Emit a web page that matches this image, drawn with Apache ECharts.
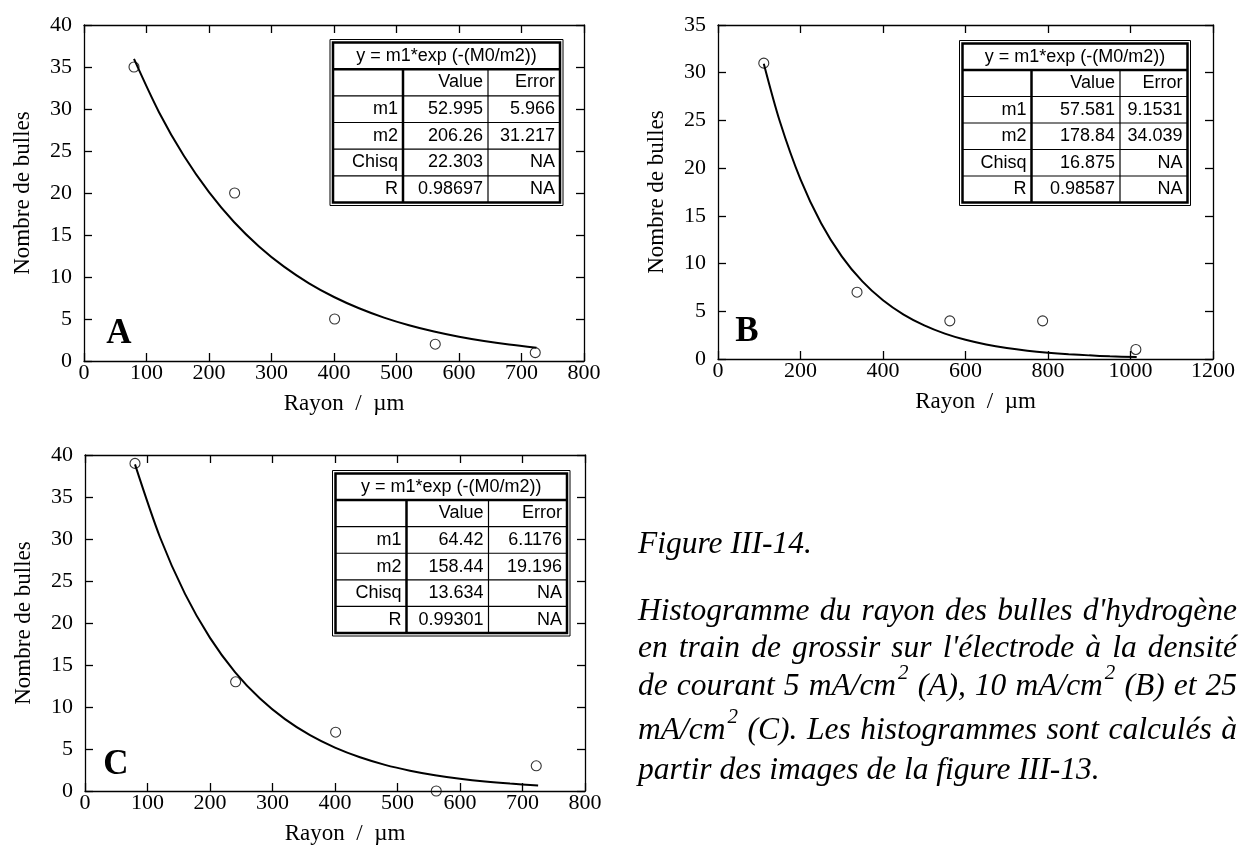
<!DOCTYPE html>
<html><head><meta charset="utf-8">
<script src="https://cdn.jsdelivr.net/npm/echarts/dist/echarts.min.js"></script>
<style>html,body{margin:0;padding:0;background:#fff}#c{width:1239px;height:845px}</style>
</head><body><div id="c"></div>
<script>
// ---------- data ----------
const pointsXA = [80, 241, 401, 562, 722];
const pointsYA = [35, 20, 5, 2, 1];
const pointsXB = [111, 337, 562, 787, 1013];
const pointsYB = [31, 7, 4, 4, 1];
const pointsXC = [80, 241, 401, 562, 722];
const pointsYC = [39, 13, 7, 0, 3];

const fitXA = [80,120,160,200,240,280,320,360,400,440,480,520,560,600,640,680,724];
const fitYA = [35.96,29.62,24.40,20.10,16.55,13.64,11.23,9.25,7.62,6.28,5.17,4.26,3.51,2.89,2.38,1.96,1.58];
const fitXB = [111,150,200,250,300,350,400,450,500,550,600,650,700,750,800,850,900,950,1015];
const fitYB = [30.95,24.89,18.82,14.23,10.76,8.13,6.15,4.65,3.52,2.66,2.01,1.52,1.15,0.87,0.66,0.50,0.38,0.28,0.20];
const fitXC = [80,120,160,200,240,280,320,360,400,440,480,520,560,600,640,680,725];
const fitYC = [38.88,30.21,23.47,18.23,14.16,11.00,8.55,6.64,5.16,4.01,3.11,2.42,1.88,1.46,1.13,0.88,0.66];

const fitEquation = 'y = m1*exp (-(M0/m2))';
const tableHeader = ['Value', 'Error'];
const tableRowLabels = ['m1', 'm2', 'Chisq', 'R'];
const valuesA = ['52.995', '206.26', '22.303', '0.98697'];
const errorsA = ['5.966', '31.217', 'NA', 'NA'];
const valuesB = ['57.581', '178.84', '16.875', '0.98587'];
const errorsB = ['9.1531', '34.039', 'NA', 'NA'];
const valuesC = ['64.42', '158.44', '13.634', '0.99301'];
const errorsC = ['6.1176', '19.196', 'NA', 'NA'];

const panelLetters = ['A', 'B', 'C'];
const xAxisName = 'Rayon  /  µm';
const yAxisName = 'Nombre de bulles';
const xMaxes = [800, 1200, 800];
const xSteps = [100, 200, 100];
const yMaxes = [40, 35, 40];
const ySteps = [5, 5, 5];

const captionTitle = 'Figure III-14.';
const captionLines = [
  "Histogramme du rayon des bulles d'hydrogène",
  "en train de grossir sur l'électrode à la densité",
  "de courant 5 mA/cm^2 (A), 10 mA/cm^2 (B) et 25",
  "mA/cm^2 (C). Les histogrammes sont calculés à",
  "partir des images de la figure III-13."
];

// ---------- layout ----------
const serif = 'Liberation Serif';
const sans = 'Liberation Sans';
const grids = [
  {left: 84, top: 25, width: 500, height: 336},
  {left: 718, top: 25, width: 495, height: 334},
  {left: 85, top: 455, width: 500, height: 336}
];
const tables = [
  {x0: 330, y0: 39.5, x1: 563, y1: 205.5, c1: 403, c2: 488, vals: valuesA, errs: errorsA},
  {x0: 959.5, y0: 40.5, x1: 1190.5, y1: 205.5, c1: 1031.5, c2: 1120, vals: valuesB, errs: errorsB},
  {x0: 332.5, y0: 470.5, x1: 570, y1: 636, c1: 406.5, c2: 488.5, vals: valuesC, errs: errorsC}
];
const letterPos = [[119, 334], [747, 332], [116, 765]];

const pairs = (xs, ys) => xs.map((x, i) => [x, ys[i]]);
const seriesPts = [[pointsXA, pointsYA], [pointsXB, pointsYB], [pointsXC, pointsYC]];
const seriesFit = [[fitXA, fitYA], [fitXB, fitYB], [fitXC, fitYC]];

const axLine = {show: true, onZero: false, lineStyle: {color: '#000', width: 1.3}};
const axTick = {show: true, inside: true, length: 8, lineStyle: {color: '#000', width: 1.3}};

const xAxes = [], yAxes = [], series = [];
grids.forEach((g, i) => {
  ['bottom', 'top'].forEach(pos => {
    xAxes.push({
      type: 'value', gridIndex: i, position: pos, min: 0, max: xMaxes[i], interval: xSteps[i],
      axisLine: axLine, axisTick: axTick, splitLine: {show: false},
      axisLabel: {show: pos === 'bottom', margin: 1, color: '#000', fontFamily: serif, fontSize: 22,
        formatter: v => String(v)},
      name: pos === 'bottom' ? xAxisName : '', nameLocation: 'middle', nameGap: 31, nameMoveOverlap: false,
      nameTextStyle: {fontFamily: serif, fontSize: 23, color: '#000', padding: [0, 0, 0, 20]}
    });
  });
  ['left', 'right'].forEach(pos => {
    yAxes.push({
      type: 'value', gridIndex: i, position: pos, min: 0, max: yMaxes[i], interval: ySteps[i],
      axisLine: axLine, axisTick: axTick, splitLine: {show: false},
      axisLabel: {show: pos === 'left', margin: 12, color: '#000', fontFamily: serif, fontSize: 22,
        formatter: v => String(v)},
      name: pos === 'left' ? yAxisName : '', nameLocation: 'middle', nameGap: 50, nameMoveOverlap: false,
      nameTextStyle: {fontFamily: serif, fontSize: 23, color: '#000'}
    });
  });
  series.push({
    type: 'line', xAxisIndex: 2 * i, yAxisIndex: 2 * i,
    data: pairs(seriesFit[i][0], seriesFit[i][1]),
    showSymbol: false, smooth: 0.3, silent: true,
    lineStyle: {color: '#000', width: 2}, z: 2
  });
  series.push({
    type: 'scatter', xAxisIndex: 2 * i, yAxisIndex: 2 * i,
    data: pairs(seriesPts[i][0], seriesPts[i][1]),
    symbol: 'circle', symbolSize: 10, clip: false, silent: true,
    itemStyle: {color: 'rgba(255,255,255,0)', borderColor: '#000', borderWidth: 1.1}, z: 3
  });
});

// ---------- graphic: tables ----------
const graphics = [];
function ln(x1, y1, x2, y2, w) {
  return {type: 'line', shape: {x1, y1, x2, y2}, style: {stroke: '#000', lineWidth: w}, silent: true};
}
function tx(t, x, y, font, align) {
  return {type: 'text', silent: true, style: {text: t, x, y, font, fill: '#000',
    align: align, textAlign: align, verticalAlign: 'middle', textVerticalAlign: 'middle'}};
}
const tFont = '18px "' + sans + '"';
tables.forEach(t => {
  const ix0 = t.x0 + 3, iy0 = t.y0 + 3, ix1 = t.x1 - 3, iy1 = t.y1 - 3;
  const rh = (iy1 - iy0) / 6;
  graphics.push({type: 'rect', shape: {x: t.x0, y: t.y0, width: t.x1 - t.x0, height: t.y1 - t.y0},
    style: {fill: '#fff', stroke: '#000', lineWidth: 1}, silent: true});
  graphics.push({type: 'rect', shape: {x: ix0, y: iy0, width: ix1 - ix0, height: iy1 - iy0},
    style: {fill: 'none', stroke: '#000', lineWidth: 2.5}, silent: true});
  graphics.push(ln(ix0, iy0 + rh, ix1, iy0 + rh, 2.5));
  for (let r = 2; r < 6; r++) graphics.push(ln(ix0, iy0 + rh * r, ix1, iy0 + rh * r, 1.2));
  graphics.push(ln(t.c1, iy0 + rh, t.c1, iy1, 2.5));
  graphics.push(ln(t.c2, iy0 + rh, t.c2, iy1, 1.2));
  graphics.push(tx(fitEquation, (ix0 + ix1) / 2, iy0 + rh / 2, tFont, 'center'));
  graphics.push(tx(tableHeader[0], t.c2 - 5, iy0 + rh * 1.5, tFont, 'right'));
  graphics.push(tx(tableHeader[1], ix1 - 5, iy0 + rh * 1.5, tFont, 'right'));
  tableRowLabels.forEach((lab, k) => {
    const yy = iy0 + rh * (k + 2.5);
    graphics.push(tx(lab, t.c1 - 5, yy, tFont, 'right'));
    graphics.push(tx(t.vals[k], t.c2 - 5, yy, tFont, 'right'));
    graphics.push(tx(t.errs[k], ix1 - 5, yy, tFont, 'right'));
  });
});
panelLetters.forEach((L, i) => {
  graphics.push(tx(L, letterPos[i][0], letterPos[i][1], 'bold 35px "' + serif + '"', 'center'));
});

// ---------- graphic: caption (justified) ----------
const capFont = 'italic 31.5px "' + serif + '"';
const supFont = 'italic 21px "' + serif + '"';
const mctx = document.createElement('canvas').getContext('2d');
function measure(t, f) { mctx.font = f; return mctx.measureText(t).width; }
const capLeft = 638, capRight = 1237;
const capTitleY = 545;
const capYs = [612, 649, 687, 731, 771];
graphics.push(tx(captionTitle, capLeft, capTitleY, capFont, 'left'));
captionLines.forEach((line, li) => {
  const words = line.split(' ').map(w => {
    const parts = w.split('^');
    const b = parts[0], s = parts[1] || '';
    const bw = measure(b, capFont);
    return {b, s, bw, w: bw + (s ? measure(s, supFont) + 2 : 0)};
  });
  const total = words.reduce((a, w) => a + w.w, 0);
  const justify = li < captionLines.length - 1;
  let gap = justify ? (capRight - capLeft - total) / (words.length - 1) : measure(' ', capFont);
  if (gap < 3) gap = 3;
  let x = capLeft;
  const y = capYs[li];
  words.forEach(w => {
    graphics.push(tx(w.b, x, y, capFont, 'left'));
    if (w.s) graphics.push(tx(w.s, x + w.bw + 2, y - 14, supFont, 'left'));
    x += w.w + gap;
  });
});

const chart = echarts.init(document.getElementById('c'), null, {renderer: 'canvas'});
chart.setOption({
  animation: false,
  backgroundColor: '#fff',
  grid: grids.map(g => Object.assign({containLabel: false, outerBoundsMode: 'none'}, g)),
  xAxis: xAxes,
  yAxis: yAxes,
  series: series,
  graphic: {elements: graphics}
});
</script>
</body></html>
